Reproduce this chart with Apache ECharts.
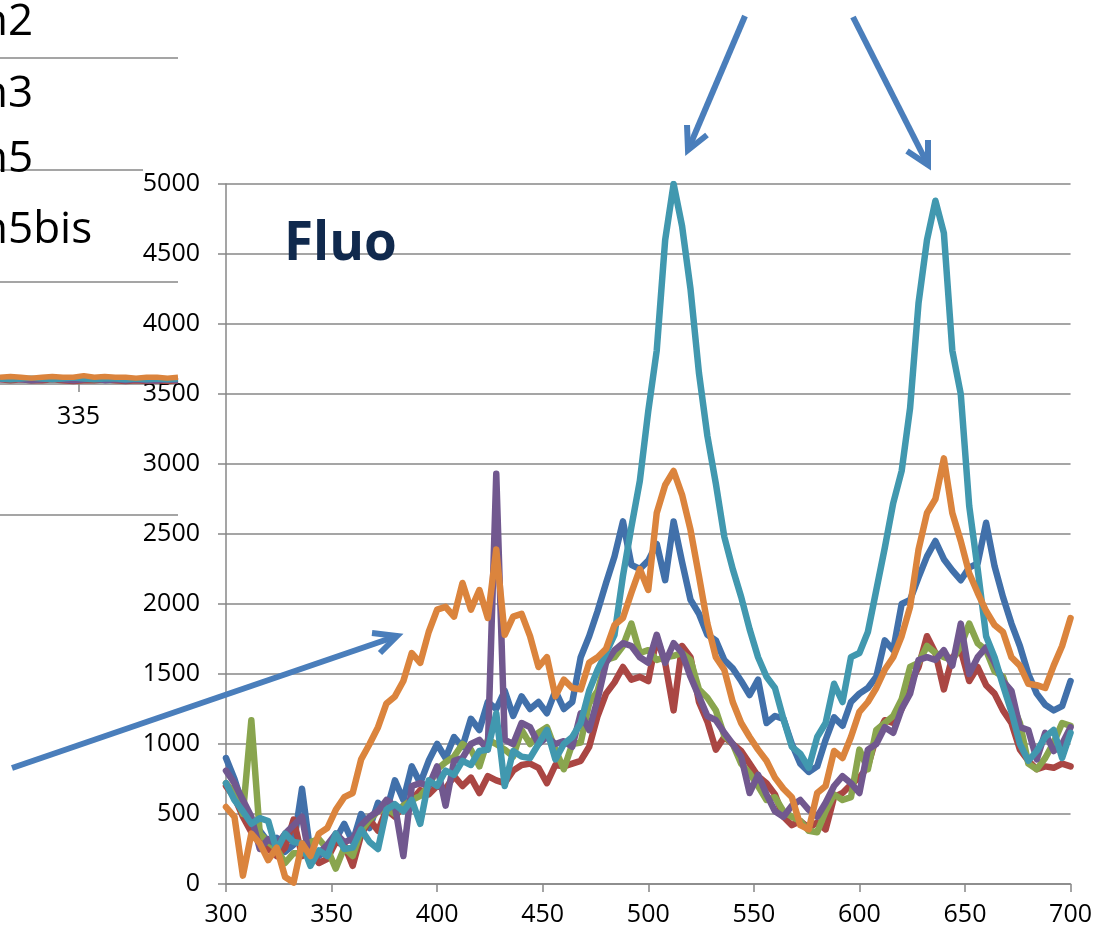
<!DOCTYPE html>
<html>
<head>
<meta charset="utf-8">
<script src="https://cdn.jsdelivr.net/npm/echarts@6/dist/echarts.min.js"></script>
<style>html,body{margin:0;padding:0;background:#fff}#chart{width:1095px;height:937px}</style>
</head>
<body>
<div id="chart"></div>
<script>
// ---- main chart data (wavelength step 4) ----
const wavelengths = [];
for (let w = 300; w <= 700; w += 4) wavelengths.push(w);

const blue = [
  900, 750, 560, 430, 380, 300, 330, 230, 280, 680,
  220, 200, 250, 320, 430, 300, 500, 400, 580, 520,
  740, 600, 840, 720, 880, 1000, 900, 1050, 980, 1180,
  1100, 1300, 1250, 1380, 1200, 1340, 1250, 1300, 1220, 1380,
  1250, 1300, 1620, 1770, 1950, 2150, 2340, 2590, 2280, 2250,
  2310, 2430, 2170, 2590, 2300, 2030, 1930, 1780, 1740, 1600,
  1540, 1450, 1350, 1460, 1150, 1200, 1180, 1000, 860, 800,
  840, 1030, 1190, 1130, 1300, 1360, 1400, 1480, 1740, 1670,
  2000, 2030, 2190, 2340, 2450, 2320, 2240, 2170, 2260, 2290,
  2580, 2270, 2050, 1860, 1700, 1500, 1360, 1280, 1240, 1270,
  1450
];
const red = [
  700, 620, 480, 370, 300, 250, 200, 260, 460, 200,
  230, 150, 180, 300, 280, 130, 350, 460, 380, 530,
  480, 560, 600, 670, 640, 700, 680, 770, 700, 760,
  650, 770, 740, 720, 810, 850, 860, 830, 720, 850,
  840, 860, 880, 980, 1200, 1360, 1440, 1550, 1460, 1480,
  1450, 1760, 1580, 1240, 1700, 1620, 1300, 1160, 960, 1050,
  1000, 950, 860, 770, 720, 640, 480, 420, 450, 400,
  440, 390, 620, 650, 710, 760, 840, 1050, 1170, 1150,
  1250, 1430, 1550, 1770, 1650, 1390, 1620, 1670, 1450, 1550,
  1420, 1360, 1240, 1150, 960, 880, 820, 840, 830, 860,
  840
];
const green = [
  720, 650, 500, 1170, 360, 300, 250, 150, 220, 220,
  300, 320, 250, 110, 260, 200, 380, 460, 520, 540,
  500, 560, 600, 630, 700, 820, 870, 910, 1000, 960,
  840, 1030, 1000, 960, 910, 1100, 1000, 1080, 1120, 960,
  820, 1000, 1010, 1290, 1380, 1600, 1620, 1700, 1860, 1650,
  1670, 1600, 1620, 1630, 1650, 1600, 1390, 1330, 1240, 1060,
  1000, 860, 790, 700, 600, 620, 520, 480, 450, 380,
  370, 520, 640, 600, 620, 960, 820, 1100, 1150, 1200,
  1320, 1550, 1580, 1700, 1650, 1620, 1600, 1700, 1860, 1720,
  1670, 1520, 1480, 1300, 1150, 860, 820, 900, 1010, 1150,
  1130
];
const purple = [
  810, 720, 600, 480, 250, 320, 280, 360, 420, 480,
  150, 220, 280, 360, 300, 320, 420, 480, 520, 600,
  560, 200, 700, 720, 700, 840, 560, 880, 900, 1000,
  1030, 960, 2930, 1030, 1000, 1150, 1120, 1000, 1050, 1000,
  1020, 980, 1220, 1100, 1320, 1580, 1670, 1720, 1700, 1620,
  1580, 1780, 1580, 1720, 1650, 1480, 1340, 1200, 1170, 1080,
  1000, 910, 650, 780, 640, 520, 480, 560, 600, 530,
  480, 580, 700, 770, 720, 650, 960, 1000, 1120, 1080,
  1250, 1360, 1600, 1620, 1600, 1670, 1560, 1860, 1500, 1620,
  1690, 1580, 1450, 1380, 1120, 1100, 890, 1080, 950, 1000,
  1120
];
const teal = [
  720, 600, 520, 430, 470, 450, 240, 360, 300, 290,
  130, 240, 200, 360, 250, 260, 390, 300, 250, 530,
  570, 520, 600, 430, 740, 700, 810, 780, 880, 850,
  950, 960, 1220, 700, 950, 910, 900, 1000, 1100, 890,
  1000, 1050, 1150, 1380, 1530, 1650, 1780, 2200, 2550, 2880,
  3380, 3810, 4600, 5000, 4700, 4250, 3650, 3200, 2860, 2480,
  2250, 2050, 1820, 1620, 1480, 1400, 1180, 980, 930, 830,
  1050, 1150, 1430, 1300, 1620, 1650, 1800, 2100, 2400, 2720,
  2950, 3400, 4150, 4600, 4880, 4650, 3810, 3500, 2700, 2250,
  1770, 1620, 1420, 1230, 1000, 880, 950, 1050, 1100, 900,
  1080
];
const orange = [
  550, 480, 60, 360, 290, 170, 260, 50, 10, 290,
  200, 360, 400, 530, 620, 650, 890, 1000, 1120, 1290,
  1340, 1450, 1650, 1580, 1800, 1960, 1980, 1910, 2150, 1960,
  2100, 1900, 2390, 1780, 1910, 1930, 1770, 1550, 1620, 1340,
  1460, 1400, 1390, 1580, 1620, 1680, 1850, 1900, 2080, 2250,
  2100, 2650, 2850, 2950, 2780, 2530, 2200, 1860, 1620, 1530,
  1300, 1150, 1050, 960, 880, 760, 680, 620, 420, 390,
  650, 700, 950, 900, 1050, 1230, 1300, 1400, 1530, 1620,
  1770, 1980, 2390, 2650, 2750, 3040, 2650, 2450, 2220, 2080,
  1950, 1850, 1800, 1620, 1560, 1430, 1420, 1400, 1560, 1700,
  1900
];
const title = 'Fluo';

// ---- partly hidden chart behind (upper left) ----
const bgX = [320, 322, 324, 326, 328, 330, 332, 334, 336, 338, 340, 342, 344, 346, 348, 350, 352, 354];
const bgRed    = [5, 4, 5, 4, 4, 5, 4, 3, 4, 4, 5, 4, 3, 4, 3, 4, 3, 4];
const bgPurple = [5, 6, 5, 4, 5, 6, 5, 4, 5, 6, 4, 5, 4, 5, 4, 4, 5, 4];
const bgTeal   = [6, 5, 6, 7, 6, 5, 6, 7, 6, 5, 6, 6, 5, 6, 5, 6, 5, 6];
const bgOrange = [8, 9, 8, 7, 8, 9, 8, 8, 10, 8, 9, 8, 8, 7, 8, 8, 7, 8];
const bgTick = [335];
const bgLegend = ['n2', 'n3', 'n5', 'n5bis'];

const COLORS = {blue:'#4170AA', red:'#AA4643', green:'#89A54E', purple:'#71588F', teal:'#4198AF', orange:'#DB843D'};
const FONT = '"Open Sans", "Noto Sans", sans-serif';
const GRAY = '#878787';

function pairs(xs, ys) { return xs.map((x, i) => [x, ys[i]]); }
function mainLine(name, ys, color) {
  return {name, type:'line', xAxisIndex:0, yAxisIndex:0, data: pairs(wavelengths, ys),
    showSymbol:false, symbol:'none', lineStyle:{color, width:6.5, join:'round', cap:'round'}, itemStyle:{color}, silent:true};
}
function bgLine(name, ys, color) {
  return {name, type:'line', xAxisIndex:1, yAxisIndex:1, data: pairs(bgX, ys),
    showSymbol:false, symbol:'none', lineStyle:{color, width:5.5}, silent:true, z:1};
}
function arrow(x1, y1, x2, y2, w1, w2) {
  const st = {stroke:'#4A7EBB', lineWidth:6, lineCap:'butt', lineJoin:'miter', fill:null};
  return [
    {type:'line', z:200, shape:{x1, y1, x2, y2}, style:st, silent:true},
    {type:'polyline', z:200, shape:{points:[w1, [x2, y2], w2]}, style:st, silent:true}
  ];
}
const plain = v => String(v);

const chart = echarts.init(document.getElementById('chart'), null, {renderer:'canvas'});
const option = {
  animation:false,
  backgroundColor:'#ffffff',
  grid:[
    {left:226, right:22, top:184, bottom:53},
    {left:0, top:300, width:178, height:84}
  ],
  xAxis:[
    {gridIndex:0, type:'value', min:300, max:700, interval:50,
      axisLine:{show:true, onZero:false, lineStyle:{color:GRAY, width:1.5}},
      axisTick:{show:true, length:8, lineStyle:{color:GRAY, width:1.5}},
      axisLabel:{color:'#000', fontSize:25, fontFamily:FONT, margin:18, formatter:plain},
      splitLine:{show:false}},
    {gridIndex:1, type:'value', min:320, max:354,
      axisLine:{show:true, onZero:false, lineStyle:{color:GRAY, width:1.5}},
      axisTick:{show:true, length:8, customValues:bgTick, lineStyle:{color:GRAY, width:1.5}},
      axisLabel:{color:'#000', fontSize:25, fontFamily:FONT, margin:20, customValues:bgTick, formatter:plain},
      splitLine:{show:false}}
  ],
  yAxis:[
    {gridIndex:0, type:'value', min:0, max:5000, interval:500,
      axisLine:{show:true, onZero:false, lineStyle:{color:GRAY, width:1.5}},
      axisTick:{show:true, length:8, lineStyle:{color:GRAY, width:1.5}},
      axisLabel:{color:'#000', fontSize:25, fontFamily:FONT, margin:26, formatter:plain},
      splitLine:{show:true, lineStyle:{color:GRAY, width:1.5}}},
    {gridIndex:1, type:'value', min:0, max:100, show:false}
  ],
  series:[
    bgLine('bg-red', bgRed, COLORS.red),
    bgLine('bg-purple', bgPurple, COLORS.purple),
    bgLine('bg-teal', bgTeal, COLORS.teal),
    bgLine('bg-orange', bgOrange, COLORS.orange),
    mainLine('s1', blue, COLORS.blue),
    mainLine('s2', red, COLORS.red),
    mainLine('s3', green, COLORS.green),
    mainLine('s4', purple, COLORS.purple),
    mainLine('s5', teal, COLORS.teal),
    mainLine('s6', orange, COLORS.orange)
  ],
  graphic:[
    // background (hidden chart) decorations
    {type:'line', z:0, shape:{x1:0, y1:58, x2:178, y2:58}, style:{stroke:GRAY, lineWidth:1.5}, silent:true},
    {type:'line', z:0, shape:{x1:0, y1:170, x2:143, y2:170}, style:{stroke:GRAY, lineWidth:1.5}, silent:true},
    {type:'line', z:0, shape:{x1:0, y1:282, x2:178, y2:282}, style:{stroke:GRAY, lineWidth:1.5}, silent:true},
    {type:'line', z:0, shape:{x1:0, y1:515, x2:178, y2:515}, style:{stroke:GRAY, lineWidth:1.5}, silent:true},
    {type:'text', z:1, x:-19, y:22, style:{text:bgLegend[0], font:'44px ' + FONT, fill:'#000', verticalAlign:'middle'}, silent:true},
    {type:'text', z:1, x:-19, y:94, style:{text:bgLegend[1], font:'44px ' + FONT, fill:'#000', verticalAlign:'middle'}, silent:true},
    {type:'text', z:1, x:-19, y:159, style:{text:bgLegend[2], font:'44px ' + FONT, fill:'#000', verticalAlign:'middle'}, silent:true},
    {type:'text', z:1, x:-19, y:230, style:{text:bgLegend[3], font:'44px ' + FONT, fill:'#000', verticalAlign:'middle'}, silent:true},
    // title
    {type:'text', z:50, x:284, y:245, style:{text:title, font:'bold 53px ' + FONT, fill:'#10294D', verticalAlign:'middle'}, silent:true},
    // arrows
    ...arrow(745, 16, 688, 150, [687, 125], [707, 135]),
    ...arrow(853, 17, 928, 165, [928, 140], [907, 151]),
    ...arrow(12, 768, 397, 636, [372, 633], [380, 653])
  ]
};
chart.setOption(option);
</script>
</body>
</html>
